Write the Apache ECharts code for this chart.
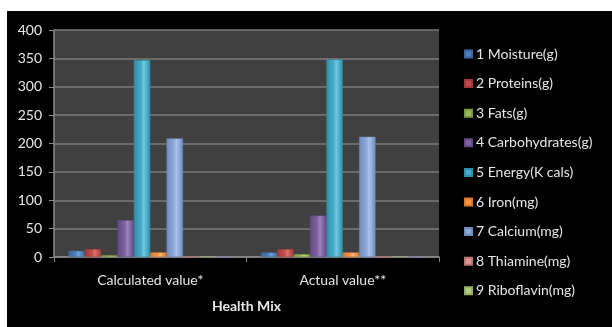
<!DOCTYPE html>
<html>
<head>
<meta charset="utf-8">
<script src="https://cdn.jsdelivr.net/npm/echarts@6/dist/echarts.min.js"></script>
<style>
html,body{margin:0;padding:0;background:#fff;}
#chart{width:612px;height:327px;}
</style>
</head>
<body>
<div id="chart"></div>
<script>
const categories = ['Calculated value*', 'Actual value**'];
const seriesNames = ['1 Moisture(g)', '2 Proteins(g)', '3 Fats(g)', '4 Carbohydrates(g)', '5 Energy(K cals)', '6 Iron(mg)', '7 Calcium(mg)', '8 Thiamine(mg)', '9 Riboflavin(mg)', '10 Niacin(mg)'];
const moisture = [11, 8];
const proteins = [14, 14];
const fats = [3, 5];
const carbohydrates = [65, 73];
const energy = [347, 348];
const iron = [8, 8];
const calcium = [209, 212];
const thiamine = [1, 1];
const riboflavin = [1, 1];
const niacin = [1, 1];
const yTicks = [0, 50, 100, 150, 200, 250, 300, 350, 400];
const xAxisTitle = 'Health Mix';

const values = [moisture, proteins, fats, carbohydrates, energy, iron, calcium, thiamine, riboflavin, niacin];
const colors = ['#4F81BD', '#C0504D', '#9BBB59', '#8064A2', '#4BACC6', '#F79646', '#8DA9D8', '#D99694', '#B5CF8A', '#A594C2'];
const darker = ['#3A679E', '#9E3A37', '#7A9A3E', '#634A84', '#2F8FA8', '#D97A2A', '#6E8CBE', '#B87572', '#94AE6A', '#8775A6'];
const lighter = ['#6FA0DC', '#E0706C', '#B9D97A', '#9E84C4', '#6CCAE2', '#FFB470', '#A9C3EC', '#EEB0AE', '#D0E6A8', '#C0B2DC'];

function grad(i) {
  return new echarts.graphic.LinearGradient(0, 0, 1, 0, [
    {offset: 0, color: darker[i]},
    {offset: 0.45, color: colors[i]},
    {offset: 0.6, color: lighter[i]},
    {offset: 1, color: darker[i]}
  ]);
}

const chart = echarts.init(document.getElementById('chart'), null, {renderer: 'canvas'});
const series = seriesNames.map((name, i) => ({
  name: name,
  type: 'bar',
  data: values[i],
  barGap: '0%',
  barCategoryGap: '15%',
  itemStyle: {color: grad(i), borderColor: darker[i], borderWidth: 0.5},
  emphasis: {disabled: true}
}));

chart.setOption({
  animation: false,
  backgroundColor: '#ffffff',
  color: colors,
  graphic: [{
    type: 'rect', z: -10, silent: true,
    shape: {x: 7, y: 11, width: 605, height: 316},
    style: {fill: '#000000'}
  }],
  grid: {
    left: 54, right: 173, top: 30, bottom: 70,
    show: true, backgroundColor: '#404040', borderWidth: 0
  },
  legend: {
    orient: 'vertical',
    left: 464, top: 47,
    padding: 0,
    data: seriesNames.slice(0, 9).map((n, i) => ({name: n, itemStyle: {color: colors[i]}})),
    icon: 'rect',
    itemWidth: 7, itemHeight: 7,
    itemGap: 15.6,
    textStyle: {color: '#e6e6e6', fontFamily: 'Lato', fontSize: 14, lineHeight: 14, padding: [0, 0, 0, -1]}
  },
  xAxis: {
    type: 'category',
    data: categories,
    name: xAxisTitle,
    nameLocation: 'middle',
    nameGap: 42,
    nameTextStyle: {color: '#e6e6e6', fontFamily: 'Lato', fontSize: 14, fontWeight: 'bold'},
    axisLine: {lineStyle: {color: '#8a8a8a', width: 1.5}},
    axisTick: {show: true, inside: false, length: 5, lineStyle: {color: '#8a8a8a'}},
    axisLabel: {color: '#e6e6e6', fontFamily: 'Lato', fontSize: 14, margin: 16}
  },
  yAxis: {
    type: 'value',
    min: yTicks[0], max: yTicks[yTicks.length - 1], interval: 50,
    axisLine: {show: true, lineStyle: {color: '#8a8a8a', width: 1.5}},
    axisTick: {show: true, length: 5, lineStyle: {color: '#8a8a8a'}},
    axisLabel: {color: '#e6e6e6', fontFamily: 'Lato', fontSize: 14, margin: 12},
    splitLine: {lineStyle: {color: '#7a7a7a', width: 1.5}}
  },
  series: series
});
</script>
</body>
</html>
